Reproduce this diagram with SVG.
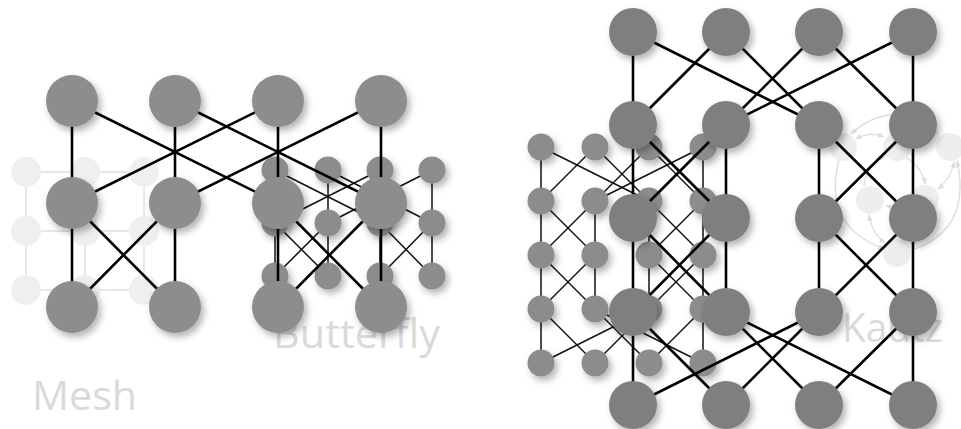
<svg xmlns="http://www.w3.org/2000/svg" width="961" height="429" viewBox="0 0 961 429">
<defs>
<filter id="sh" x="-40%" y="-40%" width="190%" height="190%"><feDropShadow dx="3" dy="4" stdDeviation="3.5" flood-color="#000" flood-opacity="0.3"/></filter>
<marker id="ah" viewBox="0 0 10 10" refX="9" refY="5" markerWidth="5" markerHeight="5" orient="auto-start-reverse"><path d="M0,1 L10,5 L0,9 z" fill="#dcdcdc"/></marker>
</defs>
<style>
.bigL{fill:#8d8d8d;filter:url(#sh)}
.bigR{fill:#7f7f7f;filter:url(#sh)}
.sm{fill:#8c8c8c;filter:url(#sh)}
.mn{fill:#efefef}
.kn{fill:#eeeeee}
.eb{stroke:#000;stroke-width:2.6;fill:none}
.es{stroke:#111;stroke-width:1.5;fill:none}
.em{stroke:#e6e6e6;stroke-width:1.8;fill:none}
.ek{stroke:#dedede;stroke-width:1.3;fill:none}
.ka{stroke:#dcdcdc;stroke-width:1.3;fill:none;marker-end:url(#ah)}
.kb{stroke:#dcdcdc;stroke-width:1.3;fill:none;marker-end:url(#ah);marker-start:url(#ah)}
.lbl{font-family:"Open Sans","Liberation Sans",sans-serif;font-size:40px;fill:#dadada}
</style>

<!-- Mesh (faint) -->
<g id="mesh-connectors">
<line class="em" x1="26" y1="172" x2="144" y2="172"/>
<line class="em" x1="26" y1="231" x2="144" y2="231"/>
<line class="em" x1="26" y1="290" x2="144" y2="290"/>
<line class="em" x1="26" y1="172" x2="26" y2="290"/>
<line class="em" x1="85" y1="172" x2="85" y2="290"/>
<line class="em" x1="144" y1="172" x2="144" y2="290"/>
</g>
<g id="m00"><circle class="mn" cx="26" cy="172" r="15"/></g>
<g id="m01"><circle class="mn" cx="85" cy="172" r="15"/></g>
<g id="m02"><circle class="mn" cx="144" cy="172" r="15"/></g>
<g id="m10"><circle class="mn" cx="26" cy="231" r="15"/></g>
<g id="m11"><circle class="mn" cx="85" cy="231" r="15"/></g>
<g id="m12"><circle class="mn" cx="144" cy="231" r="15"/></g>
<g id="m20"><circle class="mn" cx="26" cy="290" r="15"/></g>
<g id="m21"><circle class="mn" cx="85" cy="290" r="15"/></g>
<g id="m22"><circle class="mn" cx="144" cy="290" r="15"/></g>

<!-- Small butterfly (left) -->
<g id="small-butterfly-connectors">
<line class="es" x1="275" y1="170" x2="275" y2="223"/>
<line class="es" x1="275" y1="170" x2="380" y2="223"/>
<line class="es" x1="328" y1="170" x2="328" y2="223"/>
<line class="es" x1="328" y1="170" x2="432" y2="223"/>
<line class="es" x1="380" y1="170" x2="275" y2="223"/>
<line class="es" x1="380" y1="170" x2="380" y2="223"/>
<line class="es" x1="432" y1="170" x2="328" y2="223"/>
<line class="es" x1="432" y1="170" x2="432" y2="223"/>
<line class="es" x1="275" y1="223" x2="275" y2="276"/>
<line class="es" x1="275" y1="223" x2="328" y2="276"/>
<line class="es" x1="328" y1="223" x2="275" y2="276"/>
<line class="es" x1="328" y1="223" x2="328" y2="276"/>
<line class="es" x1="380" y1="223" x2="380" y2="276"/>
<line class="es" x1="380" y1="223" x2="432" y2="276"/>
<line class="es" x1="432" y1="223" x2="380" y2="276"/>
<line class="es" x1="432" y1="223" x2="432" y2="276"/>
</g>
<g id="sb00"><circle class="sm" cx="275" cy="170" r="13.5"/></g>
<g id="sb01"><circle class="sm" cx="328" cy="170" r="13.5"/></g>
<g id="sb02"><circle class="sm" cx="380" cy="170" r="13.5"/></g>
<g id="sb03"><circle class="sm" cx="432" cy="170" r="13.5"/></g>
<g id="sb10"><circle class="sm" cx="275" cy="223" r="13.5"/></g>
<g id="sb11"><circle class="sm" cx="328" cy="223" r="13.5"/></g>
<g id="sb12"><circle class="sm" cx="380" cy="223" r="13.5"/></g>
<g id="sb13"><circle class="sm" cx="432" cy="223" r="13.5"/></g>
<g id="sb20"><circle class="sm" cx="275" cy="276" r="13.5"/></g>
<g id="sb21"><circle class="sm" cx="328" cy="276" r="13.5"/></g>
<g id="sb22"><circle class="sm" cx="380" cy="276" r="13.5"/></g>
<g id="sb23"><circle class="sm" cx="432" cy="276" r="13.5"/></g>

<text class="lbl" x="32" y="410" textLength="105" lengthAdjust="spacingAndGlyphs">Mesh</text>
<text class="lbl" x="273" y="348" textLength="167" lengthAdjust="spacingAndGlyphs">Butterfly</text>

<!-- Big network (left) -->
<g id="big-left-connectors">
<line class="eb" x1="72" y1="101" x2="72" y2="203"/>
<line class="eb" x1="72" y1="101" x2="278" y2="203"/>
<line class="eb" x1="175" y1="101" x2="175" y2="203"/>
<line class="eb" x1="175" y1="101" x2="381" y2="203"/>
<line class="eb" x1="278" y1="101" x2="72" y2="203"/>
<line class="eb" x1="278" y1="101" x2="278" y2="203"/>
<line class="eb" x1="381" y1="101" x2="175" y2="203"/>
<line class="eb" x1="381" y1="101" x2="381" y2="203"/>
<line class="eb" x1="72" y1="203" x2="72" y2="307"/>
<line class="eb" x1="72" y1="203" x2="175" y2="307"/>
<line class="eb" x1="175" y1="203" x2="72" y2="307"/>
<line class="eb" x1="175" y1="203" x2="175" y2="307"/>
<line class="eb" x1="278" y1="203" x2="278" y2="307"/>
<line class="eb" x1="278" y1="203" x2="381" y2="307"/>
<line class="eb" x1="381" y1="203" x2="278" y2="307"/>
<line class="eb" x1="381" y1="203" x2="381" y2="307"/>
</g>
<g id="L00"><circle class="bigL" cx="72" cy="101" r="26"/></g>
<g id="L01"><circle class="bigL" cx="175" cy="101" r="26"/></g>
<g id="L02"><circle class="bigL" cx="278" cy="101" r="26"/></g>
<g id="L03"><circle class="bigL" cx="381" cy="101" r="26"/></g>
<g id="L10"><circle class="bigL" cx="72" cy="203" r="26"/></g>
<g id="L11"><circle class="bigL" cx="175" cy="203" r="26"/></g>
<g id="L12"><circle class="bigL" cx="278" cy="203" r="26"/></g>
<g id="L13"><circle class="bigL" cx="381" cy="203" r="26"/></g>
<g id="L20"><circle class="bigL" cx="72" cy="307" r="26"/></g>
<g id="L21"><circle class="bigL" cx="175" cy="307" r="26"/></g>
<g id="L22"><circle class="bigL" cx="278" cy="307" r="26"/></g>
<g id="L23"><circle class="bigL" cx="381" cy="307" r="26"/></g>

<!-- Kautz (faint) -->
<g id="kautz-connectors">
<path class="ka" d="M938,133 Q893,96 851,134"/>
<path class="kb" d="M856,139 Q870,131 884,137"/>
<path class="ka" d="M905,157 Q923,168 925,184"/>
<path class="kb" d="M938,189 Q951,178 954,162"/>
<path class="ka" d="M915,249 Q972,228 957,161"/>
<path class="ka" d="M839,160 Q822,226 884,249"/>
<path class="kb" d="M869,215 Q872,234 885,243"/>
<path class="ka" d="M864,186 Q866,164 885,156"/>
<path class="ka" d="M911,206 Q900,212 886,205"/>
</g>
<g id="k0"><circle class="kn" cx="843" cy="147" r="14"/></g>
<g id="k1"><circle class="kn" cx="897" cy="147" r="14"/></g>
<g id="k2"><circle class="kn" cx="950" cy="147" r="14"/></g>
<g id="k3"><circle class="kn" cx="870" cy="200" r="14"/></g>
<g id="k4"><circle class="kn" cx="925" cy="199" r="14"/></g>
<g id="k5"><circle class="kn" cx="897" cy="253" r="14"/></g>
<text class="lbl" x="842" y="342" textLength="101" lengthAdjust="spacingAndGlyphs">Kautz</text>

<!-- Small network (right) -->
<g id="small-right-connectors">
<line class="es" x1="541" y1="147" x2="541" y2="201"/>
<line class="es" x1="541" y1="147" x2="649" y2="201"/>
<line class="es" x1="595" y1="147" x2="541" y2="201"/>
<line class="es" x1="595" y1="147" x2="649" y2="201"/>
<line class="es" x1="649" y1="147" x2="595" y2="201"/>
<line class="es" x1="649" y1="147" x2="703" y2="201"/>
<line class="es" x1="703" y1="147" x2="595" y2="201"/>
<line class="es" x1="703" y1="147" x2="703" y2="201"/>
<line class="es" x1="541" y1="201" x2="541" y2="255"/>
<line class="es" x1="541" y1="201" x2="595" y2="255"/>
<line class="es" x1="595" y1="201" x2="541" y2="255"/>
<line class="es" x1="595" y1="201" x2="595" y2="255"/>
<line class="es" x1="649" y1="201" x2="649" y2="255"/>
<line class="es" x1="649" y1="201" x2="703" y2="255"/>
<line class="es" x1="703" y1="201" x2="649" y2="255"/>
<line class="es" x1="703" y1="201" x2="703" y2="255"/>
<line class="es" x1="541" y1="255" x2="541" y2="309"/>
<line class="es" x1="541" y1="255" x2="595" y2="309"/>
<line class="es" x1="595" y1="255" x2="541" y2="309"/>
<line class="es" x1="595" y1="255" x2="595" y2="309"/>
<line class="es" x1="649" y1="255" x2="649" y2="309"/>
<line class="es" x1="649" y1="255" x2="703" y2="309"/>
<line class="es" x1="703" y1="255" x2="649" y2="309"/>
<line class="es" x1="703" y1="255" x2="703" y2="309"/>
<line class="es" x1="541" y1="309" x2="541" y2="363"/>
<line class="es" x1="541" y1="309" x2="595" y2="363"/>
<line class="es" x1="595" y1="309" x2="649" y2="363"/>
<line class="es" x1="595" y1="309" x2="703" y2="363"/>
<line class="es" x1="649" y1="309" x2="541" y2="363"/>
<line class="es" x1="649" y1="309" x2="595" y2="363"/>
<line class="es" x1="703" y1="309" x2="649" y2="363"/>
<line class="es" x1="703" y1="309" x2="703" y2="363"/>
</g>
<g id="sr00"><circle class="sm" cx="541" cy="147" r="13.5"/></g>
<g id="sr01"><circle class="sm" cx="595" cy="147" r="13.5"/></g>
<g id="sr02"><circle class="sm" cx="649" cy="147" r="13.5"/></g>
<g id="sr03"><circle class="sm" cx="703" cy="147" r="13.5"/></g>
<g id="sr10"><circle class="sm" cx="541" cy="201" r="13.5"/></g>
<g id="sr11"><circle class="sm" cx="595" cy="201" r="13.5"/></g>
<g id="sr12"><circle class="sm" cx="649" cy="201" r="13.5"/></g>
<g id="sr13"><circle class="sm" cx="703" cy="201" r="13.5"/></g>
<g id="sr20"><circle class="sm" cx="541" cy="255" r="13.5"/></g>
<g id="sr21"><circle class="sm" cx="595" cy="255" r="13.5"/></g>
<g id="sr22"><circle class="sm" cx="649" cy="255" r="13.5"/></g>
<g id="sr23"><circle class="sm" cx="703" cy="255" r="13.5"/></g>
<g id="sr30"><circle class="sm" cx="541" cy="309" r="13.5"/></g>
<g id="sr31"><circle class="sm" cx="595" cy="309" r="13.5"/></g>
<g id="sr32"><circle class="sm" cx="649" cy="309" r="13.5"/></g>
<g id="sr33"><circle class="sm" cx="703" cy="309" r="13.5"/></g>
<g id="sr40"><circle class="sm" cx="541" cy="363" r="13.5"/></g>
<g id="sr41"><circle class="sm" cx="595" cy="363" r="13.5"/></g>
<g id="sr42"><circle class="sm" cx="649" cy="363" r="13.5"/></g>
<g id="sr43"><circle class="sm" cx="703" cy="363" r="13.5"/></g>

<!-- Big network (right) -->
<g id="big-right-connectors">
<line class="eb" x1="633" y1="32" x2="633" y2="125"/>
<line class="eb" x1="633" y1="32" x2="819" y2="125"/>
<line class="eb" x1="726" y1="32" x2="633" y2="125"/>
<line class="eb" x1="726" y1="32" x2="819" y2="125"/>
<line class="eb" x1="819" y1="32" x2="726" y2="125"/>
<line class="eb" x1="819" y1="32" x2="913" y2="125"/>
<line class="eb" x1="913" y1="32" x2="726" y2="125"/>
<line class="eb" x1="913" y1="32" x2="913" y2="125"/>
<line class="eb" x1="633" y1="125" x2="633" y2="218"/>
<line class="eb" x1="633" y1="125" x2="726" y2="218"/>
<line class="eb" x1="726" y1="125" x2="633" y2="218"/>
<line class="eb" x1="726" y1="125" x2="726" y2="218"/>
<line class="eb" x1="819" y1="125" x2="819" y2="218"/>
<line class="eb" x1="819" y1="125" x2="913" y2="218"/>
<line class="eb" x1="913" y1="125" x2="819" y2="218"/>
<line class="eb" x1="913" y1="125" x2="913" y2="218"/>
<line class="eb" x1="633" y1="218" x2="633" y2="312"/>
<line class="eb" x1="633" y1="218" x2="726" y2="312"/>
<line class="eb" x1="726" y1="218" x2="633" y2="312"/>
<line class="eb" x1="726" y1="218" x2="726" y2="312"/>
<line class="eb" x1="819" y1="218" x2="819" y2="312"/>
<line class="eb" x1="819" y1="218" x2="913" y2="312"/>
<line class="eb" x1="913" y1="218" x2="819" y2="312"/>
<line class="eb" x1="913" y1="218" x2="913" y2="312"/>
<line class="eb" x1="633" y1="312" x2="633" y2="405"/>
<line class="eb" x1="633" y1="312" x2="726" y2="405"/>
<line class="eb" x1="726" y1="312" x2="819" y2="405"/>
<line class="eb" x1="726" y1="312" x2="913" y2="405"/>
<line class="eb" x1="819" y1="312" x2="633" y2="405"/>
<line class="eb" x1="819" y1="312" x2="726" y2="405"/>
<line class="eb" x1="913" y1="312" x2="819" y2="405"/>
<line class="eb" x1="913" y1="312" x2="913" y2="405"/>
</g>
<g id="R00"><circle class="bigR" cx="633" cy="32" r="24"/></g>
<g id="R01"><circle class="bigR" cx="726" cy="32" r="24"/></g>
<g id="R02"><circle class="bigR" cx="819" cy="32" r="24"/></g>
<g id="R03"><circle class="bigR" cx="913" cy="32" r="24"/></g>
<g id="R10"><circle class="bigR" cx="633" cy="125" r="24"/></g>
<g id="R11"><circle class="bigR" cx="726" cy="125" r="24"/></g>
<g id="R12"><circle class="bigR" cx="819" cy="125" r="24"/></g>
<g id="R13"><circle class="bigR" cx="913" cy="125" r="24"/></g>
<g id="R20"><circle class="bigR" cx="633" cy="218" r="24"/></g>
<g id="R21"><circle class="bigR" cx="726" cy="218" r="24"/></g>
<g id="R22"><circle class="bigR" cx="819" cy="218" r="24"/></g>
<g id="R23"><circle class="bigR" cx="913" cy="218" r="24"/></g>
<g id="R30"><circle class="bigR" cx="633" cy="312" r="24"/></g>
<g id="R31"><circle class="bigR" cx="726" cy="312" r="24"/></g>
<g id="R32"><circle class="bigR" cx="819" cy="312" r="24"/></g>
<g id="R33"><circle class="bigR" cx="913" cy="312" r="24"/></g>
<g id="R40"><circle class="bigR" cx="633" cy="405" r="24"/></g>
<g id="R41"><circle class="bigR" cx="726" cy="405" r="24"/></g>
<g id="R42"><circle class="bigR" cx="819" cy="405" r="24"/></g>
<g id="R43"><circle class="bigR" cx="913" cy="405" r="24"/></g>
</svg>
